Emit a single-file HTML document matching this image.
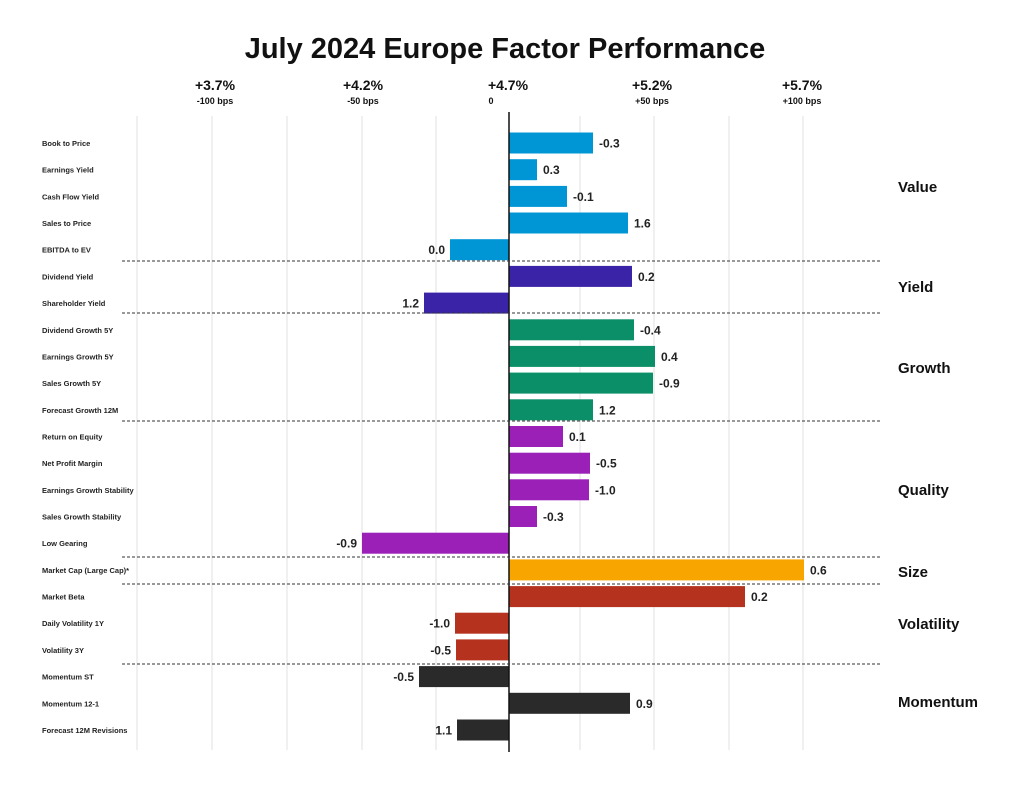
<!DOCTYPE html>
<html><head><meta charset="utf-8"><style>
body{margin:0;background:#fff;width:1024px;height:786px;overflow:hidden;font-family:"Liberation Sans",sans-serif;}
</style></head><body>
<svg width="1024" height="786" xmlns="http://www.w3.org/2000/svg" font-family="Liberation Sans, sans-serif">
<text x="505" y="58" text-anchor="middle" font-size="29" font-weight="bold" fill="#111">July 2024 Europe Factor Performance</text>
<g font-weight="bold" fill="#111" text-anchor="middle">
<text x="215" y="90" font-size="14">+3.7%</text><text x="215" y="104" font-size="9">-100 bps</text>
<text x="363" y="90" font-size="14">+4.2%</text><text x="363" y="104" font-size="9">-50 bps</text>
<text x="508" y="90" font-size="14">+4.7%</text><text x="491" y="104" font-size="9">0</text>
<text x="652" y="90" font-size="14">+5.2%</text><text x="652" y="104" font-size="9">+50 bps</text>
<text x="802" y="90" font-size="14">+5.7%</text><text x="802" y="104" font-size="9">+100 bps</text>
</g>
<g stroke="#e2e2e2" stroke-width="1">
<line x1="137" y1="116" x2="137" y2="750"/><line x1="212" y1="116" x2="212" y2="750"/><line x1="287" y1="116" x2="287" y2="750"/><line x1="362" y1="116" x2="362" y2="750"/><line x1="436" y1="116" x2="436" y2="750"/><line x1="580" y1="116" x2="580" y2="750"/><line x1="654" y1="116" x2="654" y2="750"/><line x1="729" y1="116" x2="729" y2="750"/><line x1="803" y1="116" x2="803" y2="750"/>
</g>
<g>
<rect x="509" y="132.5" width="84" height="21" fill="#0096d6"/>
<rect x="509" y="159.2" width="28" height="21" fill="#0096d6"/>
<rect x="509" y="185.9" width="58" height="21" fill="#0096d6"/>
<rect x="509" y="212.5" width="119" height="21" fill="#0096d6"/>
<rect x="450" y="239.2" width="59" height="21" fill="#0096d6"/>
<rect x="509" y="265.9" width="123" height="21" fill="#3a23a6"/>
<rect x="424" y="292.6" width="85" height="21" fill="#3a23a6"/>
<rect x="509" y="319.3" width="125" height="21" fill="#0b8f68"/>
<rect x="509" y="345.9" width="146" height="21" fill="#0b8f68"/>
<rect x="509" y="372.6" width="144" height="21" fill="#0b8f68"/>
<rect x="509" y="399.3" width="84" height="21" fill="#0b8f68"/>
<rect x="509" y="426" width="54" height="21" fill="#9a20b8"/>
<rect x="509" y="452.7" width="81" height="21" fill="#9a20b8"/>
<rect x="509" y="479.3" width="80" height="21" fill="#9a20b8"/>
<rect x="509" y="506" width="28" height="21" fill="#9a20b8"/>
<rect x="362" y="532.7" width="147" height="21" fill="#9a20b8"/>
<rect x="509" y="559.4" width="295" height="21" fill="#f8a500"/>
<rect x="509" y="586.1" width="236" height="21" fill="#b5321f"/>
<rect x="455" y="612.7" width="54" height="21" fill="#b5321f"/>
<rect x="456" y="639.4" width="53" height="21" fill="#b5321f"/>
<rect x="419" y="666.1" width="90" height="21" fill="#2a2a2a"/>
<rect x="509" y="692.8" width="121" height="21" fill="#2a2a2a"/>
<rect x="457" y="719.5" width="52" height="21" fill="#2a2a2a"/>
</g>
<g font-size="7.5" font-weight="bold" fill="#222">
<text x="42" y="146">Book to Price</text>
<text x="42" y="172.7">Earnings Yield</text>
<text x="42" y="199.4">Cash Flow Yield</text>
<text x="42" y="226">Sales to Price</text>
<text x="42" y="252.7">EBITDA to EV</text>
<text x="42" y="279.4">Dividend Yield</text>
<text x="42" y="306.1">Shareholder Yield</text>
<text x="42" y="332.8">Dividend Growth 5Y</text>
<text x="42" y="359.4">Earnings Growth 5Y</text>
<text x="42" y="386.1">Sales Growth 5Y</text>
<text x="42" y="412.8">Forecast Growth 12M</text>
<text x="42" y="439.5">Return on Equity</text>
<text x="42" y="466.2">Net Profit Margin</text>
<text x="42" y="492.8">Earnings Growth Stability</text>
<text x="42" y="519.5">Sales Growth Stability</text>
<text x="42" y="546.2">Low Gearing</text>
<text x="42" y="572.9">Market Cap (Large Cap)*</text>
<text x="42" y="599.6">Market Beta</text>
<text x="42" y="626.2">Daily Volatility 1Y</text>
<text x="42" y="652.9">Volatility 3Y</text>
<text x="42" y="679.6">Momentum ST</text>
<text x="42" y="706.3">Momentum 12-1</text>
<text x="42" y="733">Forecast 12M Revisions</text>
</g>
<g font-size="12" font-weight="bold" fill="#222">
<text x="599" y="147.5">-0.3</text>
<text x="543" y="174.2">0.3</text>
<text x="573" y="200.9">-0.1</text>
<text x="634" y="227.5">1.6</text>
<text x="445" y="254.2" text-anchor="end">0.0</text>
<text x="638" y="280.9">0.2</text>
<text x="419" y="307.6" text-anchor="end">1.2</text>
<text x="640" y="334.3">-0.4</text>
<text x="661" y="360.9">0.4</text>
<text x="659" y="387.6">-0.9</text>
<text x="599" y="414.3">1.2</text>
<text x="569" y="441">0.1</text>
<text x="596" y="467.7">-0.5</text>
<text x="595" y="494.3">-1.0</text>
<text x="543" y="521">-0.3</text>
<text x="357" y="547.7" text-anchor="end">-0.9</text>
<text x="810" y="574.4">0.6</text>
<text x="751" y="601.1">0.2</text>
<text x="450" y="627.7" text-anchor="end">-1.0</text>
<text x="451" y="654.4" text-anchor="end">-0.5</text>
<text x="414" y="681.1" text-anchor="end">-0.5</text>
<text x="636" y="707.8">0.9</text>
<text x="452" y="734.5" text-anchor="end">1.1</text>
</g>
<line x1="509" y1="112" x2="509" y2="752" stroke="#111" stroke-width="1.5"/>
<g stroke="#333" stroke-width="1" stroke-dasharray="3,2">
<line x1="122" y1="261" x2="880" y2="261"/><line x1="122" y1="313" x2="880" y2="313"/><line x1="122" y1="421" x2="880" y2="421"/><line x1="122" y1="557" x2="880" y2="557"/><line x1="122" y1="584" x2="880" y2="584"/><line x1="122" y1="664" x2="880" y2="664"/>
</g>
<g font-size="15" font-weight="bold" fill="#111">
<text x="898" y="192">Value</text><text x="898" y="292">Yield</text><text x="898" y="373">Growth</text><text x="898" y="495">Quality</text><text x="898" y="577">Size</text><text x="898" y="629">Volatility</text><text x="898" y="707">Momentum</text>
</g>
</svg>
</body></html>
